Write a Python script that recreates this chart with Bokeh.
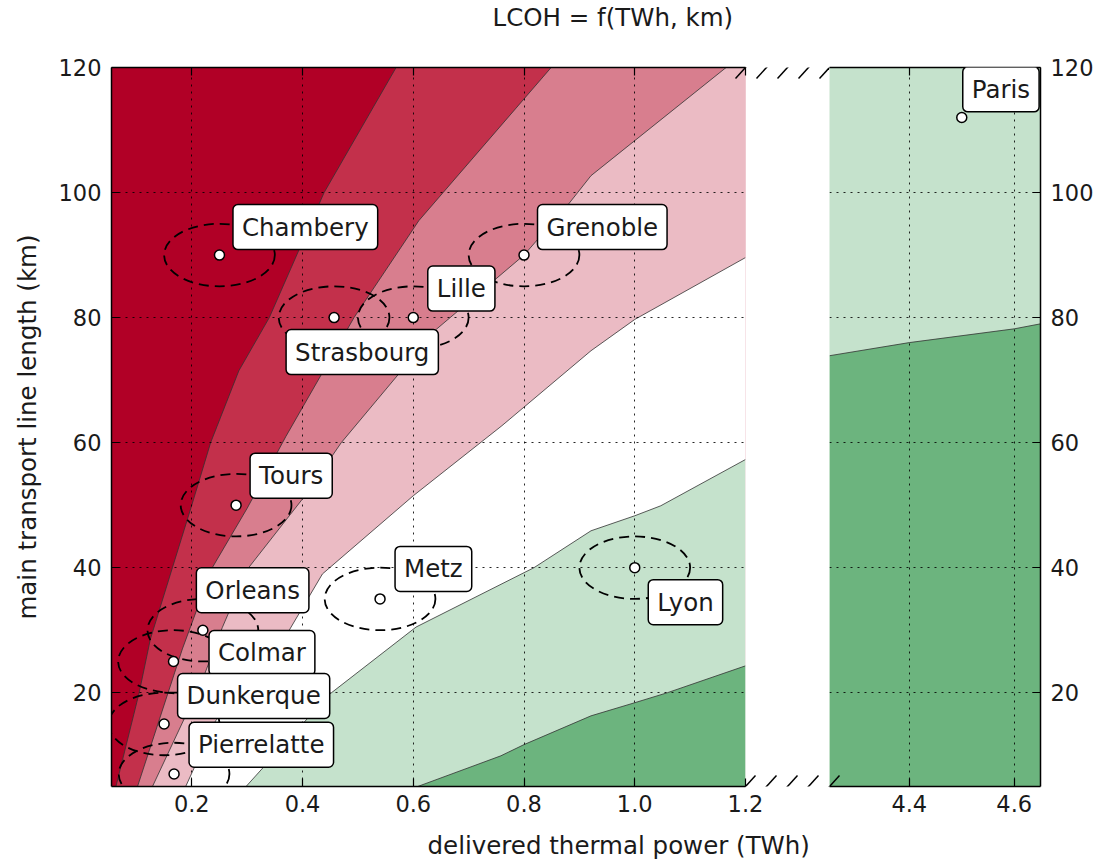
from bokeh.plotting import figure
from bokeh.models import Range1d, LinearAxis, FixedTicker, PrintfTickFormatter, Label
from bokeh.layouts import row, column
from bokeh.embed import file_html
from bokeh.resources import INLINE

# ---------------- data ----------------
twh_range_left = (0.055, 1.2)
twh_range_right = (4.248, 4.65)
km_range = (5, 120)

twh_ticks_left = [0.2, 0.4, 0.6, 0.8, 1.0, 1.2]
twh_ticks_right = [4.4, 4.6]
km_ticks = [20, 40, 60, 80, 100, 120]

band_colors = ["#b10026", "#c3304b", "#d87e8e", "#ebbbc4", "#ffffff", "#c5e2cc", "#6cb47e"]

# contour boundaries (TWh, km) between successive bands
c1_twh = [0.063, 0.105, 0.125, 0.165, 0.200, 0.234, 0.285, 0.340, 0.439, 0.569]
c1_km = [5, 20, 28.5, 40, 50, 60, 71.5, 80, 100, 120]
c2_twh = [0.102, 0.183, 0.237, 0.300, 0.370, 0.493, 0.610, 0.849]
c2_km = [5, 27, 40, 49.5, 61, 80, 95.5, 120]
c3_twh = [0.129, 0.219, 0.255, 0.300, 0.400, 0.470, 0.640, 0.800, 0.879, 0.921, 1.000, 1.165]
c3_km = [5, 22, 30.4, 39.7, 51, 60, 78, 90, 98, 102.7, 108.3, 120]
c4_twh = [0.189, 0.243, 0.376, 0.436, 0.600, 0.760, 0.921, 1.000, 1.200]
c4_km = [5, 15.5, 30, 39, 51.5, 62.7, 74.7, 79.7, 89.6]
c5_twh = [0.298, 0.448, 0.605, 0.818, 0.921, 1.000, 1.047, 1.200]
c5_km = [5, 19.7, 30.5, 40, 45.9, 48.3, 49.9, 57.3]
c6_twh = [0.608, 0.758, 0.800, 0.921, 1.000, 1.059, 1.200]
c6_km = [5, 9.9, 11.7, 16.3, 18.4, 20, 24.3]
# right panel: boundary light green / green
cr_twh = [4.248, 4.4, 4.6, 4.65]
cr_km = [73.9, 76.0, 78.2, 79.0]

cities = ["Chambery", "Strasbourg", "Lille", "Grenoble", "Tours", "Metz",
          "Lyon", "Orleans", "Colmar", "Dunkerque", "Pierrelatte"]
city_twh = [0.25, 0.457, 0.6, 0.8, 0.28, 0.54, 1.0, 0.22, 0.167, 0.15, 0.168]
city_km = [90, 80, 80, 90, 50, 35, 40, 30, 25, 15, 7]
city_twh_unc = [0.2] * len(cities)
city_km_unc = [10] * len(cities)

right_cities = ["Paris"]
right_twh = [4.5]
right_km = [112]

title_text = "LCOH = f(TWh, km)"
xlabel_text = "delivered thermal power (TWh)"
ylabel_text = "main transport line length (km)"

# label placement (screen px): box-left offset, vertical offset (up)
label_offsets = {"Chambery": (13.5, 28), "Strasbourg": (-48, -34.5), "Lille": (14.5, 29),
                 "Grenoble": (13.5, 28), "Tours": (14, 29.5), "Metz": (15, 30),
                 "Lyon": (13.5, -34.5), "Orleans": (-6.5, 40), "Colmar": (35.5, 8.5),
                 "Dunkerque": (13.5, 28), "Pierrelatte": (15, 29.3), "Paris": (1, 28.2)}

FONT = "DejaVu Sans"
TICK_FS = "22.5px"
TEXT_FS = "24.5px"
INK = "#1a1a1a"

# layout (px)
W = 1097
FRAME_L, FRAME_W, GAP_W, FRAME_RW = 111, 634, 84, 211
FRAME_TOP, FRAME_H = 67, 719
TITLE_H = 40
XLAB_H = 36
H = 864 - TITLE_H - XLAB_H
B_TOP = FRAME_TOP - TITLE_H
B_BOT = H - B_TOP - FRAME_H

boundaries = [(c1_twh, c1_km), (c2_twh, c2_km), (c3_twh, c3_km),
              (c4_twh, c4_km), (c5_twh, c5_km), (c6_twh, c6_km)]

sx1 = FRAME_W / (twh_range_left[1] - twh_range_left[0])
sx2 = FRAME_RW / (twh_range_right[1] - twh_range_right[0])
sy = FRAME_H / (km_range[1] - km_range[0])
x_view_end = twh_range_left[1] + GAP_W / sx1


def band_poly(bx, by, xmax, ymin, ymax):
    xs, ys = list(bx), list(by)
    if ys[-1] >= ymax:
        xs.append(xmax); ys.append(ymax)
    xs.append(xmax); ys.append(ymin)
    return xs, ys


def style_axis(ax, ticks, fmt, show_labels=True):
    ax.ticker = FixedTicker(ticks=ticks)
    ax.formatter = PrintfTickFormatter(format=fmt)
    ax.major_tick_in = 8
    ax.major_tick_out = 0
    ax.minor_tick_line_color = None
    ax.axis_line_width = 1.5
    ax.axis_line_color = "black"
    ax.major_tick_line_width = 1.2
    ax.major_tick_line_color = "black"
    ax.major_label_text_font = FONT
    ax.major_label_text_font_size = TICK_FS if show_labels else "1px"
    ax.major_label_text_color = INK if show_labels else None
    ax.major_label_standoff = 8 if show_labels else 0


def style_grid(p, xt, yt):
    p.xgrid.ticker = FixedTicker(ticks=xt)
    p.ygrid.ticker = FixedTicker(ticks=yt)
    for g in (p.xgrid, p.ygrid):
        g.grid_line_color = "black"
        g.grid_line_dash = "2 5"
        g.grid_line_width = 1
        g.grid_line_alpha = 0.85


def add_label(p, name, x, y):
    dx, dy = label_offsets[name]
    p.add_layout(Label(x=x, y=y, text=name, x_offset=dx, y_offset=dy,
                       text_align="left", text_baseline="middle",
                       text_font=FONT, text_font_size=TEXT_FS, text_color=INK,
                       background_fill_color="white", border_line_color="black",
                       border_line_width=1.5, border_radius=5,
                       padding=dict(left=9, right=9, top=8, bottom=8)))


def break_marks(p, xcs, dxd):
    dyd = 11 / sy
    xs, ys = [], []
    for xc in xcs:
        for yy in km_range:
            xs.append([xc - dxd, xc + dxd])
            ys.append([yy - dyd, yy + dyd])
    p.multi_line(xs=xs, ys=ys, line_color="black", line_width=1.5)


def text_strip(text, height, top_pad, offset):
    s = figure(width=W, height=height, output_backend="svg", toolbar_location=None,
               x_axis_location=None, y_axis_location=None, outline_line_color=None,
               min_border_left=FRAME_L, min_border_right=0, min_border_top=top_pad,
               min_border_bottom=0, x_range=Range1d(0, 1), y_range=Range1d(0, 1))
    s.grid.visible = False
    s.title.text = text
    s.title.align = "left"
    s.title.offset = offset
    s.title.standoff = 0
    s.title.text_font = FONT
    s.title.text_font_size = TEXT_FS
    s.title.text_font_style = "normal"
    s.title.text_color = INK
    return s


# ---------------- title / x-label strips ----------------
pt = text_strip(title_text, TITLE_H, 9, 381)
pb = text_strip(xlabel_text, XLAB_H, 5, 316)

# ---------------- left panel ----------------
p1 = figure(width=FRAME_L + FRAME_W + GAP_W, height=H,
            x_range=Range1d(twh_range_left[0], x_view_end),
            y_range=Range1d(*km_range), output_backend="svg", toolbar_location=None,
            min_border_left=FRAME_L, min_border_right=0, min_border_top=B_TOP,
            min_border_bottom=B_BOT,
            background_fill_color="white", border_fill_color="white", outline_line_color=None)

panel_x = [twh_range_left[0], twh_range_left[0], twh_range_left[1], twh_range_left[1]]
panel_y = [km_range[0], km_range[1], km_range[1], km_range[0]]
polys = [band_poly(bx, by, twh_range_left[1], km_range[0], km_range[1]) for bx, by in boundaries]
p1.patches(xs=[panel_x] + [pp[0] for pp in polys], ys=[panel_y] + [pp[1] for pp in polys],
           fill_color=band_colors, line_color=None, level="image")
p1.multi_line(xs=[b[0] for b in boundaries], ys=[b[1] for b in boundaries],
              line_color="#333333", line_width=1, line_alpha=0.8, level="image")
# blank the gap between the two panels (hides grid lines there)
p1.quad(left=twh_range_left[1], right=x_view_end, bottom=km_range[0], top=km_range[1],
        fill_color="white", line_color=None)

style_axis(p1.xaxis[0], twh_ticks_left, "%.1f")
p1.xaxis.bounds = twh_range_left
style_axis(p1.yaxis[0], km_ticks, "%d")
p1.yaxis.major_label_standoff = 10
p1.yaxis.axis_label = ylabel_text
p1.yaxis.axis_label_text_font = FONT
p1.yaxis.axis_label_text_font_size = TEXT_FS
p1.yaxis.axis_label_text_font_style = "normal"
p1.yaxis.axis_label_text_color = INK
p1.yaxis.axis_label_standoff = 14
top1 = LinearAxis(bounds=twh_range_left)
style_axis(top1, twh_ticks_left, "%.1f", show_labels=False)
p1.add_layout(top1, "above")
style_grid(p1, twh_ticks_left[:-1], km_ticks[:-1])

p1.ellipse(x=city_twh, y=city_km, width=city_twh_unc, height=city_km_unc,
           fill_color=None, line_color="black", line_width=1.8, line_dash="10 6")
p1.scatter(x=city_twh, y=city_km, size=10, fill_color="white",
           line_color="black", line_width=1.5)
for n, x, y in zip(cities, city_twh, city_km):
    add_label(p1, n, x, y)

break_marks(p1, [twh_range_left[1] + k * GAP_W / 4 / sx1 for k in range(5)], 10 / sx1)

# ---------------- right panel ----------------
p2 = figure(width=W - (FRAME_L + FRAME_W + GAP_W), height=H,
            x_range=Range1d(*twh_range_right),
            y_range=Range1d(*km_range), output_backend="svg", toolbar_location=None,
            y_axis_location="right",
            min_border_left=0, min_border_right=W - (FRAME_L + FRAME_W + GAP_W) - FRAME_RW,
            min_border_top=B_TOP, min_border_bottom=B_BOT,
            background_fill_color=band_colors[5],
            border_fill_color="white", outline_line_color=None)

rx = list(cr_twh) + [twh_range_right[1], twh_range_right[0]]
ry = list(cr_km) + [km_range[0], km_range[0]]
p2.patch(x=rx, y=ry, fill_color=band_colors[6], line_color=None, level="image")
p2.line(x=cr_twh, y=cr_km, line_color="#333333", line_width=1, line_alpha=0.8, level="image")

style_axis(p2.xaxis[0], twh_ticks_right, "%.1f")
style_axis(p2.yaxis[0], km_ticks, "%d")
p2.yaxis.major_label_standoff = 10
top2 = LinearAxis()
style_axis(top2, twh_ticks_right, "%.1f", show_labels=False)
p2.add_layout(top2, "above")
style_grid(p2, twh_ticks_right, km_ticks[:-1])

p2.scatter(x=right_twh, y=right_km, size=10, fill_color="white",
           line_color="black", line_width=1.5)
for n, x, y in zip(right_cities, right_twh, right_km):
    add_label(p2, n, x, y)

break_marks(p2, [twh_range_right[0]], 10 / sx2)

layout = column(pt, row(p1, p2), pb)
open("out.html", "w").write(file_html(layout, INLINE))
